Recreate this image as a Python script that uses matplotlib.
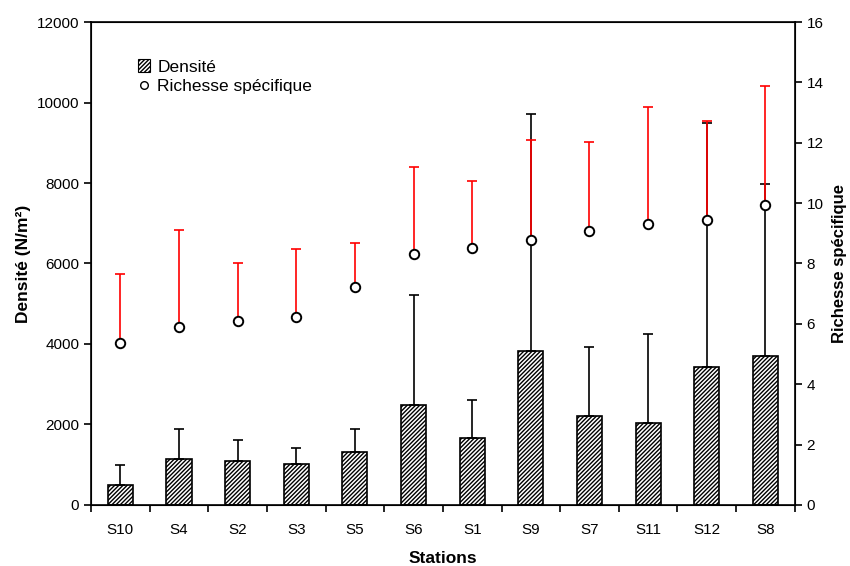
import matplotlib
matplotlib.use("Agg")
import matplotlib.pyplot as plt
import numpy as np
from matplotlib.lines import Line2D
from matplotlib.patches import Patch

plt.rcParams['font.family'] = ['Liberation Sans', 'DejaVu Sans']
plt.rcParams['hatch.linewidth'] = 1.0

stations = ["S10", "S4", "S2", "S3", "S5", "S6", "S1", "S9", "S7", "S11", "S12", "S8"]
densite = [500, 1150, 1100, 1010, 1310, 2475, 1650, 3830, 2210, 2035, 3420, 3710]
densite_err = [500, 740, 515, 415, 580, 2740, 950, 5875, 1705, 2215, 6080, 4270]
richesse = [5.36, 5.91, 6.1, 6.22, 7.21, 8.31, 8.5, 8.78, 9.09, 9.3, 9.45, 9.93]
richesse_err = [2.28, 3.2, 1.93, 2.27, 1.48, 2.89, 2.24, 3.32, 2.93, 3.9, 3.27, 3.95]

fig = plt.figure(figsize=(8.5, 5.66), dpi=100)
ax = fig.add_axes([0.107, 0.108, 0.828, 0.853])
x = np.arange(len(stations))

ax.bar(x, densite, width=0.43, facecolor='white', edgecolor='black',
       hatch='////////', linewidth=1.2, zorder=2)
ax.errorbar(x, densite, yerr=[np.zeros(len(x)), densite_err], fmt='none',
            ecolor='black', elinewidth=1.2, capsize=3.5, capthick=1.2, zorder=3)

ax.set_xlim(-0.5, len(x) - 0.5)
ax.set_ylim(0, 12000)
ax.set_yticks(np.arange(0, 12001, 2000))
ax.set_xticks(x)
ax.set_xticklabels(stations)
ax.tick_params(axis='x', which='major', length=0, pad=13)
ax.set_xticks(np.arange(-0.5, len(x), 1.0), minor=True)
ax.tick_params(axis='x', which='minor', length=5, direction='out', width=1.2)
ax.tick_params(axis='y', length=5, direction='out', width=1.2)
ax.tick_params(labelsize=11)
for s in ax.spines.values():
    s.set_linewidth(1.2)
ax.set_xlabel("Stations", fontsize=12.5, fontweight='bold', labelpad=10)
ax.set_ylabel("Densité (N/m²)", fontsize=12.5, fontweight='bold', labelpad=4)

ax2 = ax.twinx()
ax2.set_ylim(0, 16)
ax2.set_yticks(np.arange(0, 17, 2))
ax2.tick_params(axis='y', length=5, direction='out', width=1.2, labelsize=11)
ax2.errorbar(x, richesse, yerr=[np.zeros(len(x)), richesse_err], fmt='none',
             ecolor='red', elinewidth=1.2, capsize=3.5, capthick=1.2, zorder=3)
ax2.plot(x, richesse, linestyle='none', marker='o', markersize=6.8,
         markerfacecolor='white', markeredgecolor='black', markeredgewidth=1.4, zorder=4)
ax2.set_ylabel("Richesse spécifique", fontsize=12, fontweight='bold', labelpad=6)

handles = [Patch(facecolor='white', edgecolor='black', hatch='////////', linewidth=0.8),
           Line2D([], [], linestyle='none', marker='o', markersize=5.5,
                  markerfacecolor='white', markeredgecolor='black')]
ax.legend(handles, ["Densité", "Richesse spécifique"], loc='upper left',
          bbox_to_anchor=(0.045, 0.955), frameon=False, fontsize=12.5,
          handlelength=0.7, handleheight=0.7, handletextpad=0.4, labelspacing=0.25)

fig.savefig("out.png", dpi=100)
